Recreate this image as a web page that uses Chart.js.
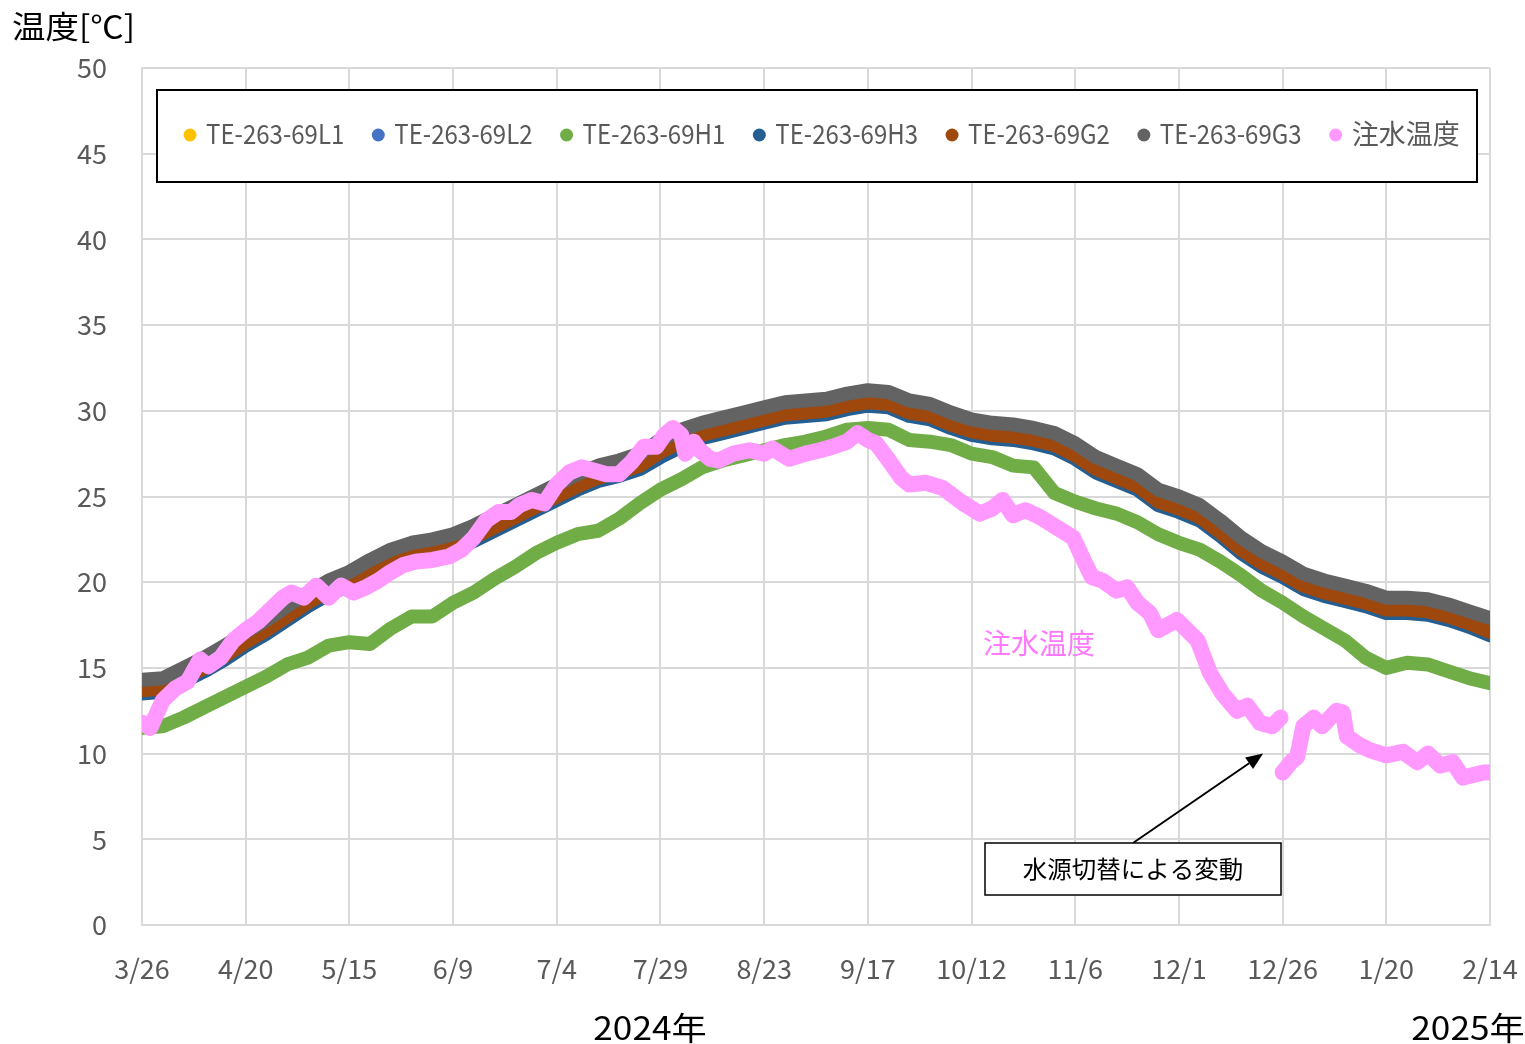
<!DOCTYPE html>
<html>
<head>
<meta charset="utf-8">
<script src="https://cdn.jsdelivr.net/npm/chart.js@4.4.1/dist/chart.umd.min.js"></script>
<style>
  html, body { margin: 0; padding: 0; background: #fff; overflow: hidden; }
  #wrap { width: 1525px; height: 1044px; }
</style>
</head>
<body>
<div id="wrap"><canvas id="c" width="1525" height="1044"></canvas></div>
<script>
// X axis: days elapsed since 2024/3/26, labelled every 25 days
const tickLabels = ['3/26','4/20','5/15','6/9','7/4','7/29','8/23','9/17','10/12','11/6','12/1','12/26','1/20','2/14'];
const yTicks = [0, 5, 10, 15, 20, 25, 30, 35, 40, 45, 50];

// Sensor readings, one value every 5 days
const sensorDays = [
  0,5,10,15,20,25,30,35,40,45,50,55,60,65,70,75,80,85,90,95,
  100,105,110,115,120,125,130,135,140,145,150,155,160,165,170,175,180,185,190,195,
  200,205,210,215,220,225,230,235,240,245,250,255,260,265,270,275,280,285,290,295,
  300,305,310,315,320,325];

const te69L1 = [
  13.6,13.7,14.3,14.9,15.6,16.4,17.1,17.9,18.7,19.4,
  19.9,20.5,21.1,21.5,21.7,22.0,22.5,23.1,23.7,24.3,
  24.9,25.5,26.0,26.3,26.7,27.4,28.0,28.5,28.8,29.1,
  29.4,29.7,29.8,29.9,30.2,30.4,30.3,29.8,29.6,29.1,
  28.7,28.5,28.4,28.2,27.9,27.3,26.5,26.0,25.5,24.6,
  24.2,23.7,22.8,21.8,21.0,20.4,19.7,19.3,19.0,18.7,
  18.3,18.3,18.2,17.9,17.5,17.0];

const te69L2 = [
  13.55,13.65,14.25,14.85,15.55,16.35,17.05,17.85,18.65,19.35,
  19.85,20.45,21.05,21.45,21.65,21.95,22.45,23.05,23.65,24.25,
  24.85,25.45,25.95,26.25,26.65,27.35,27.95,28.45,28.75,29.05,
  29.35,29.65,29.75,29.85,30.15,30.35,30.25,29.75,29.55,29.05,
  28.65,28.45,28.35,28.15,27.85,27.25,26.45,25.95,25.45,24.55,
  24.15,23.65,22.75,21.75,20.95,20.35,19.65,19.25,18.95,18.65,
  18.25,18.25,18.15,17.85,17.45,16.95];

const te69H1 = [
  11.5,11.6,12.1,12.7,13.3,13.9,14.5,15.2,15.6,16.3,
  16.5,16.4,17.3,18.0,18.0,18.8,19.4,20.2,20.9,21.7,
  22.3,22.8,23.0,23.7,24.6,25.4,26.0,26.7,27.1,27.4,
  27.7,28.0,28.2,28.5,28.9,29.0,28.9,28.3,28.2,28.0,
  27.5,27.3,26.8,26.7,25.2,24.7,24.3,24.0,23.5,22.8,
  22.3,21.9,21.2,20.4,19.5,18.8,18.0,17.3,16.6,15.6,
  15.0,15.3,15.2,14.8,14.4,14.1];

const te69H3 = [
  13.5,13.6,14.2,14.8,15.5,16.3,17.0,17.8,18.6,19.3,
  19.8,20.4,21.0,21.4,21.6,21.9,22.4,23.0,23.6,24.2,
  24.8,25.4,25.9,26.2,26.6,27.3,27.9,28.4,28.7,29.0,
  29.3,29.6,29.7,29.8,30.1,30.3,30.2,29.7,29.5,29.0,
  28.6,28.4,28.3,28.1,27.8,27.2,26.4,25.9,25.4,24.5,
  24.1,23.6,22.7,21.7,20.9,20.3,19.6,19.2,18.9,18.6,
  18.2,18.2,18.1,17.8,17.4,16.9];

const te69G2 = [
  13.7,13.8,14.4,15.0,15.7,16.5,17.2,18.0,18.8,19.5,
  20.0,20.6,21.2,21.6,21.8,22.1,22.6,23.2,23.8,24.4,
  25.0,25.6,26.1,26.4,26.8,27.6,28.2,28.6,28.9,29.2,
  29.5,29.8,29.9,30.0,30.3,30.5,30.4,29.9,29.7,29.2,
  28.8,28.6,28.5,28.3,28.0,27.4,26.6,26.1,25.6,24.7,
  24.3,23.8,22.9,21.9,21.1,20.5,19.8,19.4,19.1,18.8,
  18.4,18.4,18.3,18.0,17.6,17.1];

const te69G3 = [
  14.3,14.4,15.0,15.6,16.3,17.1,17.8,18.6,19.4,20.1,
  20.6,21.3,21.9,22.3,22.5,22.8,23.3,23.9,24.5,25.1,
  25.7,26.3,26.8,27.1,27.5,28.3,28.9,29.3,29.6,29.9,
  30.2,30.5,30.6,30.7,31.0,31.2,31.1,30.6,30.4,29.9,
  29.5,29.3,29.2,29.0,28.7,28.1,27.3,26.8,26.3,25.4,
  25.0,24.5,23.6,22.6,21.8,21.2,20.5,20.1,19.8,19.5,
  19.1,19.1,19.0,18.7,18.3,17.9];

// Injection water temperature; the null marks the water source switch-over
const injectionDays = [
  0,2,5,8,11,14,16,19,22,25,28,31,34,36,39,42,45,48,51,54,57,60,63,66,70,74,77,80,83,86,89,91,94,97,
  100,103,106,109,112,115,118,121,124,126,128,130,131,133,134.5,137,139,142.5,146.5,150,152,156,160,163.5,166.5,170,172.5,175,177,179.5,
  183,185,189,193,198,202,205,207.5,210,213,216.5,220.5,224.5,227,229,231.5,235,237.5,240,243,245,249.5,254.5,257.5,260.5,264,266.5,269.5,272.5,274.5,
  274.7,
  275,277,278.5,280,282.5,284.5,288,289.5,290.5,293.5,296,300,304,307.5,310,313,316,318.5,323.5,325];
const injectionTemp = [
  11.8,11.5,13.1,13.8,14.2,15.5,15.1,15.6,16.6,17.2,17.7,18.4,19.1,19.4,19.1,19.8,19.1,19.8,19.4,19.7,20.1,20.6,21.0,21.2,21.3,21.5,21.9,22.6,23.6,24.1,24.1,24.5,24.8,24.6,
  25.7,26.4,26.7,26.5,26.3,26.3,27.0,27.9,27.9,28.6,29.0,28.6,27.5,28.2,27.7,27.2,27.1,27.5,27.7,27.5,27.8,27.2,27.5,27.7,27.9,28.2,28.7,28.3,28.1,27.3,
  26.1,25.7,25.8,25.5,24.6,24.0,24.3,24.8,23.9,24.2,23.8,23.2,22.6,21.3,20.3,20.1,19.5,19.7,18.8,18.2,17.2,17.8,16.6,14.7,13.5,12.5,12.8,11.8,11.6,12.1,
  null,
  8.9,9.5,9.8,11.6,12.1,11.6,12.5,12.4,11.0,10.5,10.2,9.9,10.1,9.5,10.0,9.3,9.5,8.6,8.9,8.9];

const seriesNames = ['TE-263-69L1','TE-263-69L2','TE-263-69H1','TE-263-69H3','TE-263-69G2','TE-263-69G3','注水温度'];
const seriesColors = ['#FFC000','#4472C4','#70AD47','#255E91','#9E480E','#636363','#FF99FF'];
const seriesValues = [te69L1, te69L2, te69H1, te69H3, te69G2, te69G3, injectionTemp];
// later series are painted over earlier ones
const drawOrder = [6, 5, 4, 3, 2, 1, 0];

const FONT = '"Noto Sans CJK JP", "Noto Sans", sans-serif';
const GREY_TEXT = '#595959';

function pairs(xs, ys) { return xs.map((x, i) => ({ x: x, y: ys[i] })); }

const datasets = seriesNames.map((name, i) => ({
  label: name,
  data: pairs(i === 6 ? injectionDays : sensorDays, seriesValues[i]),
  borderColor: seriesColors[i],
  backgroundColor: seriesColors[i],
  borderWidth: i === 6 ? 16 : 14,
  pointRadius: 0,
  fill: false,
  spanGaps: false,
  order: drawOrder[i]
}));

// draws text squeezed (or stretched) horizontally by sx
function squeezedText(ctx, str, x, y, size, color, align, sx) {
  ctx.save();
  ctx.font = size + 'px ' + FONT;
  ctx.fillStyle = color;
  ctx.textBaseline = 'middle';
  const w = ctx.measureText(str).width * sx;
  let left = x;
  if (align === 'center') left = x - w / 2;
  else if (align === 'right') left = x - w;
  ctx.translate(left, y);
  ctx.scale(sx, 1);
  ctx.textAlign = 'left';
  ctx.fillText(str, 0, 0);
  ctx.restore();
  return w;
}

const decorations = {
  id: 'decorations',
  afterDraw(chart) {
    const ctx = chart.ctx;
    const xs = chart.scales.x, ys = chart.scales.y;

    // axis tick labels
    xs.ticks.forEach((t, i) => {
      const px = xs.getPixelForTick(i);
      squeezedText(ctx, tickLabels[i], px, 969, 27, GREY_TEXT, 'center', 1.0);
    });
    ys.ticks.forEach((t, i) => {
      const py = ys.getPixelForTick(i);
      squeezedText(ctx, String(yTicks[i]), 107, py, 27, GREY_TEXT, 'right', 1.0);
    });

    // axis titles
    squeezedText(ctx, '温度[℃]', 12, 26, 31, '#000', 'left', 1.08);
    squeezedText(ctx, '2024年', 650, 1028, 32, '#000', 'center', 1.1);
    squeezedText(ctx, '2025年', 1468, 1028, 32, '#000', 'center', 1.1);

    // legend
    ctx.save();
    ctx.fillStyle = '#fff';
    ctx.fillRect(157, 90, 1320, 92);
    ctx.strokeStyle = '#000';
    ctx.lineWidth = 2;
    ctx.strokeRect(157, 90, 1320, 92);
    ctx.restore();
    let lx = 190;
    seriesNames.forEach((name, i) => {
      ctx.save();
      ctx.fillStyle = seriesColors[i];
      ctx.beginPath();
      ctx.arc(lx, 135, 6.5, 0, Math.PI * 2);
      ctx.fill();
      ctx.restore();
      const cjk = /[^\x00-\x7F]/.test(name);
      const w = squeezedText(ctx, name, lx + 16, 134, 27, GREY_TEXT, 'left', cjk ? 1.0 : 0.89);
      lx = lx + 16 + w + 34;
    });

    // inline label for the injection water line
    squeezedText(ctx, '注水温度', 1039, 643, 28, '#FF79FF', 'center', 1.0);

    // callout for the water source switch
    const bx0 = 985, bx1 = 1281, by0 = 843, by1 = 895;
    const tipX = xs.getPixelForValue(270.3), tipY = ys.getPixelForValue(10.0);
    const startX = (bx0 + bx1) / 2, startY = by0;
    ctx.save();
    ctx.strokeStyle = '#000';
    ctx.fillStyle = '#000';
    ctx.lineWidth = 2;
    const ang = Math.atan2(tipY - startY, tipX - startX);
    const headLen = 17, headW = 7;
    const baseX = tipX - headLen * Math.cos(ang), baseY = tipY - headLen * Math.sin(ang);
    ctx.beginPath();
    ctx.moveTo(startX, startY);
    ctx.lineTo(baseX, baseY);
    ctx.stroke();
    ctx.beginPath();
    ctx.moveTo(tipX, tipY);
    ctx.lineTo(baseX + headW * Math.sin(ang), baseY - headW * Math.cos(ang));
    ctx.lineTo(baseX - headW * Math.sin(ang), baseY + headW * Math.cos(ang));
    ctx.closePath();
    ctx.fill();
    ctx.fillStyle = '#fff';
    ctx.fillRect(bx0, by0, bx1 - bx0, by1 - by0);
    ctx.lineWidth = 1.5;
    ctx.strokeRect(bx0, by0, bx1 - bx0, by1 - by0);
    ctx.restore();
    squeezedText(ctx, '水源切替による変動', (bx0 + bx1) / 2, 869, 24, '#000', 'center', 1.02);
  }
};

const gridStyle = { color: '#d9d9d9', lineWidth: 2, drawTicks: false };

new Chart(document.getElementById('c'), {
  type: 'line',
  data: { datasets: datasets },
  options: {
    responsive: false,
    animation: false,
    devicePixelRatio: 1,
    layout: { padding: { top: 68, right: 35, left: 0, bottom: 0 } },
    plugins: { legend: { display: false }, tooltip: { enabled: false } },
    elements: { line: { tension: 0, borderCapStyle: 'round', borderJoinStyle: 'round' } },
    scales: {
      x: {
        type: 'linear', min: 0, max: 325,
        ticks: { stepSize: 25, display: false },
        grid: gridStyle,
        border: { color: '#d9d9d9', width: 2 },
        afterFit(s) { s.height = 119; }
      },
      y: {
        type: 'linear', min: 0, max: 50,
        ticks: { stepSize: 5, display: false },
        grid: gridStyle,
        border: { color: '#d9d9d9', width: 2 },
        afterFit(s) { s.width = 142; }
      }
    }
  },
  plugins: [decorations]
});
</script>
</body>
</html>
